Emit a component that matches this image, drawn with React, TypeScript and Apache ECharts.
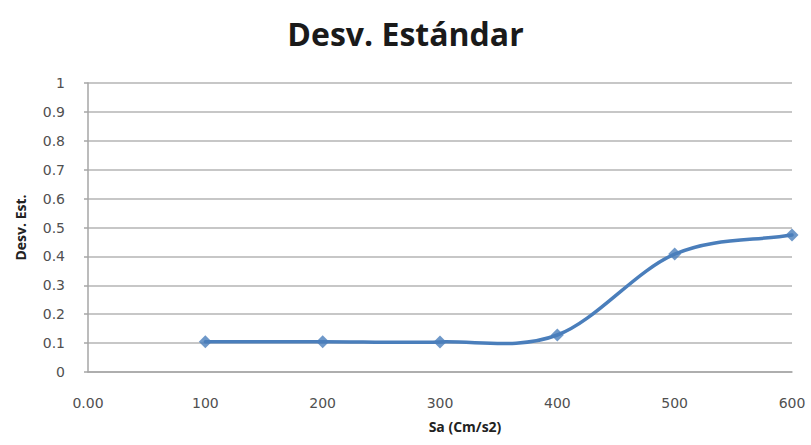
import React, { useEffect, useRef } from "react";
import * as echarts from "echarts";

const titleText = "Desv. Estándar";
const xName = "Sa (Cm/s2)";
const yName = "Desv. Est.";
const xValues = [100, 200, 300, 400, 500, 600];
const yValues = [0.105, 0.105, 0.104, 0.128, 0.408, 0.474];

const LINE_COLOR = "#4a7ebb";

function smoothPath(pts: number[][]): string {
  const n = pts.length;
  const first = [2 * pts[0][0] - pts[1][0], 2 * pts[0][1] - pts[1][1]];
  const last = [2 * pts[n - 1][0] - pts[n - 2][0], 2 * pts[n - 1][1] - pts[n - 2][1]];
  const ext = [first, ...pts, last];
  let d = `M${pts[0][0]},${pts[0][1]}`;
  for (let i = 1; i < ext.length - 2; i++) {
    const p0 = ext[i - 1];
    const p1 = ext[i];
    const p2 = ext[i + 1];
    const p3 = ext[i + 2];
    const c1x = p1[0] + (p2[0] - p0[0]) / 6;
    const c1y = p1[1] + (p2[1] - p0[1]) / 6;
    const c2x = p2[0] - (p3[0] - p1[0]) / 6;
    const c2y = p2[1] - (p3[1] - p1[1]) / 6;
    d += ` C${c1x},${c1y} ${c2x},${c2y} ${p2[0]},${p2[1]}`;
  }
  return d;
}

export default function App() {
  const ref = useRef<HTMLDivElement>(null);
  useEffect(() => {
    if (!ref.current) return;
    const chart = echarts.init(ref.current, null, { renderer: "svg" });
    chart.setOption({
      animation: false,
      backgroundColor: "#ffffff",
      title: {
        text: titleText,
        left: "center",
        top: 12,
        textStyle: { fontFamily: "Open Sans", fontWeight: "bold", fontSize: 32, color: "#1a1a1a" },
      },
      grid: { left: 88, right: 19, top: 83, bottom: 73 },
      xAxis: {
        type: "value",
        min: 0,
        max: 600,
        interval: 100,
        name: xName,
        nameLocation: "middle",
        nameGap: 47,
        nameTextStyle: { fontFamily: "Open Sans", fontWeight: "bold", fontSize: 14, color: "#222", padding: [0, 0, 0, 50] },
        axisLine: { lineStyle: { color: "#a6a6a6", width: 1.5 } },
        axisTick: { show: false },
        splitLine: { show: false },
        axisLabel: {
          margin: 24,
          fontFamily: "DejaVu Sans",
          fontSize: 14,
          color: "#505050",
          formatter: (v: number) => (v === 0 ? "0.00" : String(v)),
        },
      },
      yAxis: {
        type: "value",
        min: 0,
        max: 1,
        interval: 0.1,
        name: yName,
        nameLocation: "middle",
        nameGap: 61,
        nameTextStyle: { fontFamily: "Open Sans", fontWeight: "bold", fontSize: 14, color: "#222" },
        axisLine: { show: true, lineStyle: { color: "#a6a6a6", width: 1.5 } },
        axisTick: { show: true, length: 4, lineStyle: { color: "#a6a6a6", width: 1.5 } },
        splitLine: { lineStyle: { color: "#b5b5b5", width: 1.5 } },
        axisLabel: {
          margin: 23,
          fontFamily: "DejaVu Sans",
          fontSize: 14,
          color: "#505050",
          formatter: (v: number) => String(Math.round(v * 10) / 10),
        },
      },
      series: [
        {
          type: "custom",
          coordinateSystem: "cartesian2d",
          silent: true,
          data: [[xValues[0], yValues[0]]],
          encode: { x: 0, y: 1 },
          renderItem: (_params: any, api: any) => {
            const pts = xValues.map((x, i) => api.coord([x, yValues[i]]));
            return {
              type: "path",
              shape: { pathData: smoothPath(pts) },
              style: { fill: "none", stroke: LINE_COLOR, lineWidth: 3.5, lineCap: "round", lineJoin: "round" },
            };
          },
          z: 2,
        },
        {
          type: "scatter",
          data: xValues.map((x, i) => [x, yValues[i]]),
          symbol: "diamond",
          symbolSize: 13,
          itemStyle: { color: LINE_COLOR },
          z: 3,
        },
      ],
    });
    return () => chart.dispose();
  }, []);
  return <div ref={ref} style={{ position: "absolute", left: 0, top: 0, width: 811, height: 445 }} />;
}
